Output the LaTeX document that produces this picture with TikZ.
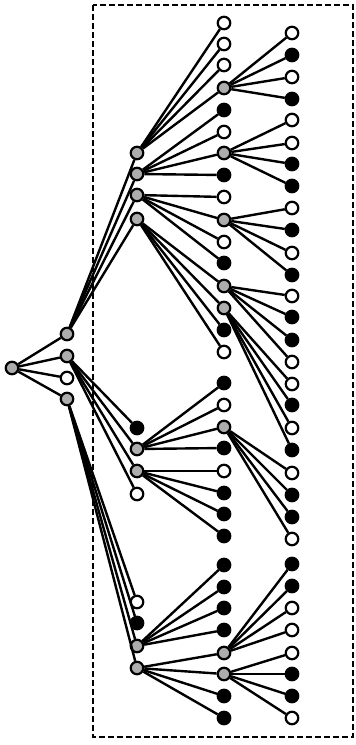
\documentclass[tikz,border=0pt]{standalone}
\begin{document}
\begin{tikzpicture}[x=1pt,y=-1pt,
  nd/.style={circle,draw,line width=2.2pt,minimum size=12.5pt,inner sep=0pt},
  wn/.style={nd,fill=white}, bn/.style={nd,fill=black}, gn/.style={nd,fill=black!32},
  ed/.style={line width=2.4pt},
  frame/.style={dash pattern=on 6pt off 3pt,line width=1.6pt}]
\useasboundingbox (0,0) rectangle (356,745);
\draw[frame] (93,5) rectangle (353,737);
% root and level 1
\node[gn] (r) at (12,368) {};
\node[gn] (a1) at (67,334) {};
\node[gn] (a2) at (67,356) {};
\node[wn] (a3) at (67,378) {};
\node[gn] (a4) at (67,399) {};
% level 2
\foreach \y/\s [count=\i] in {153/gn,174/gn,195/gn,219/gn,428/bn,449/gn,471/gn,494/wn,602/wn,623/bn,646/gn,668/gn}
  {\node[\s] (b\i) at (137,\y) {};}
% level 3
\foreach \y/\s [count=\i] in {23/wn,44/wn,65/wn,88/gn,110/bn,132/wn,153/gn,175/bn,197/wn,220/gn,242/wn,263/bn,286/gn,308/gn,330/bn,352/wn,383/bn,405/wn,427/gn,448/bn,471/wn,493/bn,514/bn,536/bn,565/bn,587/bn,608/bn,630/bn,653/gn,674/gn,696/bn,718/bn}
  {\node[\s] (c\i) at (224,\y) {};}
% level 4
\foreach \y/\s [count=\i] in {33/wn,55/bn,77/wn,99/bn,120/wn,143/wn,164/bn,186/bn,208/wn,230/bn,253/wn,275/bn,296/wn,317/bn,340/bn,362/wn,384/wn,405/bn,428/wn,450/bn,473/wn,495/bn,517/bn,539/wn,564/bn,586/bn,608/wn,630/wn,653/wn,674/bn,696/bn,718/wn}
  {\node[\s] (d\i) at (292,\y) {};}
% edges
\foreach \a in {a1,a2,a3,a4} {\draw[ed] (r) -- (\a);}
\foreach \p/\k in {a1/1,a2/5,a4/9}
  \foreach \j in {0,...,3} {\pgfmathtruncatemacro\n{\k+\j}\draw[ed] (\p) -- (b\n);}
\foreach \p/\k in {b1/1,b2/5,b3/9,b4/13,b6/17,b7/21,b11/25,b12/29}
  \foreach \j in {0,...,3} {\pgfmathtruncatemacro\n{\k+\j}\draw[ed] (\p) -- (c\n);}
\foreach \p/\k in {c4/1,c7/5,c10/9,c13/13,c14/17,c19/21,c29/25,c30/29}
  \foreach \j in {0,...,3} {\pgfmathtruncatemacro\n{\k+\j}\draw[ed] (\p) -- (d\n);}
\end{tikzpicture}
\end{document}
